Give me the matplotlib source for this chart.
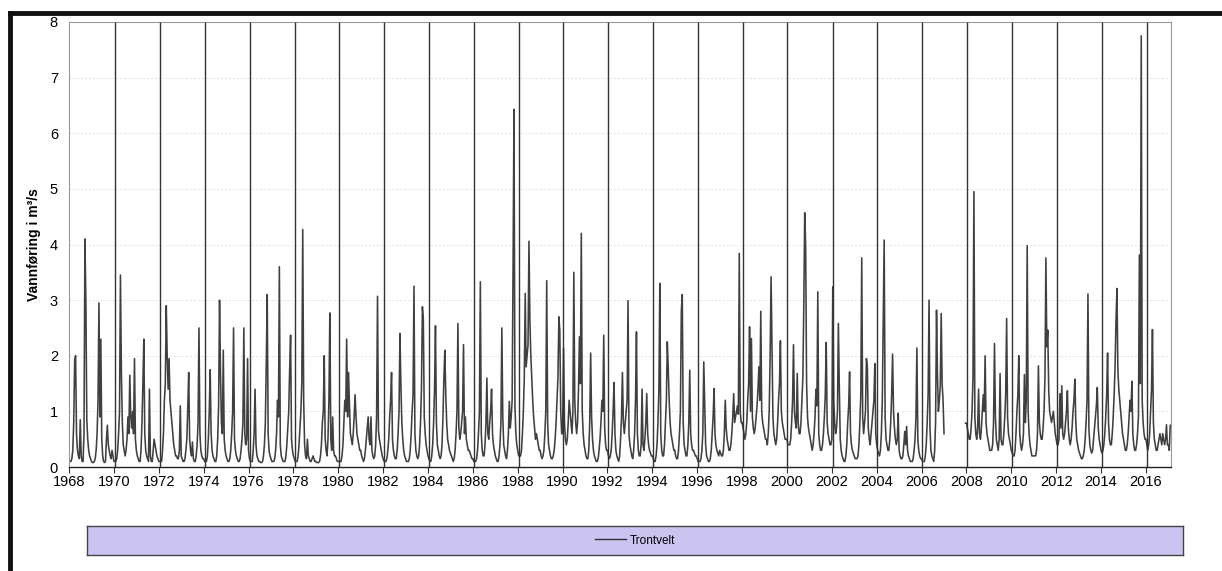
import numpy as np
import matplotlib
matplotlib.use("Agg")
import matplotlib.pyplot as plt
from matplotlib.lines import Line2D

plt.rcParams['font.family'] = ['Liberation Sans', 'DejaVu Sans']

# daily flow, 24 samples per year (1st and 16th of each month)
flow_1968_1977 = [
    0.1,0.1,0.1,0.15,0.3,0.8,1.9,2.0,0.6,0.3,0.2,0.15,0.85,0.2,0.1,0.1,0.6,4.1,3.0,0.85,0.5,0.3,0.2,0.15,   # 1968
    0.1,0.08,0.08,0.1,0.15,0.3,0.6,1.2,2.95,0.9,2.3,0.5,0.2,0.1,0.08,0.1,0.5,0.75,0.4,0.3,0.2,0.15,0.3,0.2, # 1969
    0.1,0.1,0.1,0.15,0.3,0.6,1.0,3.45,1.7,0.8,0.4,0.3,0.2,0.3,0.5,0.9,0.6,1.65,0.9,0.7,1.0,0.6,1.95,0.5,    # 1970
    0.3,0.2,0.15,0.1,0.1,0.3,0.8,1.5,2.3,0.6,0.3,0.2,0.15,0.1,1.4,0.2,0.1,0.1,0.3,0.5,0.4,0.3,0.2,0.15,     # 1971
    0.1,0.1,0.1,0.1,0.3,0.6,1.2,1.5,2.9,2.0,1.4,1.95,1.2,1.0,0.8,0.6,0.4,0.3,0.2,0.2,0.15,0.15,0.3,1.1,     # 1972
    0.2,0.15,0.1,0.1,0.15,0.3,0.5,1.05,1.7,0.5,0.3,0.2,0.45,0.15,0.1,0.1,0.2,0.4,0.8,2.5,0.6,0.3,0.2,0.15,  # 1973
    0.15,0.1,0.1,0.1,0.2,0.5,1.0,1.75,0.6,0.3,0.2,0.15,0.1,0.1,0.2,0.5,1.1,3.0,1.7,0.8,0.6,2.1,0.5,0.3,     # 1974
    0.2,0.15,0.1,0.1,0.15,0.3,0.6,1.0,2.5,0.5,0.3,0.2,0.15,0.1,0.1,0.15,0.3,0.5,0.8,2.5,0.6,0.4,0.5,1.95,   # 1975
    0.3,0.15,0.1,0.1,0.1,0.3,0.6,1.4,0.4,0.2,0.15,0.1,0.1,0.08,0.08,0.1,0.2,0.4,0.8,1.87,3.1,0.6,0.3,0.2,   # 1976
    0.15,0.1,0.1,0.1,0.15,0.3,0.6,1.2,0.9,3.6,0.4,0.2,0.15,0.1,0.1,0.1,0.2,0.4,0.7,1.0,1.75,2.37,0.5,0.3,   # 1977
]
flow_1978_1987 = [
    0.2,0.15,0.1,0.1,0.1,0.2,0.4,0.7,1.0,1.5,4.27,1.2,0.4,0.2,0.15,0.5,0.2,0.15,0.1,0.1,0.15,0.2,0.15,0.1,  # 1978
    0.1,0.08,0.08,0.08,0.1,0.2,0.4,0.8,1.0,2.0,0.5,0.3,0.2,0.5,1.2,2.77,0.5,0.3,0.9,0.3,0.2,0.2,0.15,0.1,  # 1979
    0.1,0.1,0.1,0.1,0.2,0.4,0.8,1.2,1.0,2.3,0.9,1.7,1.1,0.6,0.5,0.4,0.6,0.9,1.3,0.9,0.6,0.5,0.4,0.3,       # 1980
    0.3,0.2,0.15,0.1,0.15,0.3,0.5,0.7,0.9,0.5,0.4,0.9,0.3,0.2,0.15,0.2,0.4,0.9,3.07,0.66,0.5,0.4,0.3,0.2,  # 1981
    0.15,0.1,0.1,0.1,0.15,0.3,0.5,0.9,1.2,1.7,0.5,0.3,0.2,0.15,0.15,0.3,0.6,1.0,2.4,1.47,0.8,0.5,0.3,0.2,  # 1982
    0.15,0.1,0.1,0.1,0.15,0.3,0.6,1.0,1.3,3.25,0.6,0.3,0.2,0.15,0.2,0.4,0.8,1.4,2.88,2.66,0.9,0.6,0.4,0.3, # 1983
    0.2,0.15,0.1,0.1,0.2,0.4,0.8,1.4,2.54,0.8,0.4,0.3,0.2,0.15,0.2,0.4,0.9,1.6,2.1,1.3,0.8,0.5,0.4,0.3,    # 1984
    0.25,0.2,0.15,0.1,0.15,0.3,0.6,1.0,2.58,0.7,0.5,0.6,0.8,1.0,2.2,0.6,0.9,0.5,0.4,0.3,0.3,0.25,0.2,0.15, # 1985
    0.15,0.1,0.1,0.1,0.15,0.3,0.6,1.0,3.33,0.6,0.3,0.2,0.2,0.4,0.8,1.6,0.6,0.5,0.8,1.0,1.4,0.6,0.4,0.3,    # 1986
    0.2,0.15,0.1,0.1,0.2,0.4,0.8,2.5,0.9,0.4,0.3,0.2,0.15,0.3,0.6,1.18,0.7,0.9,1.2,3.6,6.43,1.1,0.6,0.4,   # 1987
]
flow_1988_1997 = [
    0.3,0.2,0.2,0.2,0.3,0.6,1.0,1.6,3.12,1.8,2.0,2.2,4.06,2.64,2.0,1.6,1.2,0.9,0.7,0.5,0.6,0.5,0.4,0.3,    # 1988
    0.3,0.2,0.15,0.2,0.3,0.6,1.0,3.35,0.8,0.4,0.3,0.2,0.15,0.15,0.2,0.3,0.5,0.8,1.2,1.6,2.7,2.45,1.0,0.6,  # 1989
    0.6,2.14,0.8,0.5,0.4,0.5,0.8,1.2,1.0,0.8,0.6,1.0,3.5,1.2,0.8,0.6,0.8,1.4,2.34,1.5,4.2,1.0,0.6,0.4,     # 1990
    0.3,0.2,0.15,0.15,0.3,0.8,2.05,0.9,0.5,0.3,0.2,0.15,0.1,0.1,0.15,0.3,0.5,0.8,1.2,1.0,2.37,0.7,0.4,0.3, # 1991
    0.3,0.2,0.15,0.2,0.3,0.6,1.0,1.52,0.6,0.3,0.2,0.15,0.1,0.2,0.5,0.9,1.7,0.8,0.6,0.8,1.0,1.2,2.99,0.6,   # 1992
    0.4,0.3,0.2,0.15,0.3,0.6,1.2,2.43,0.6,0.3,0.2,0.2,0.4,1.4,0.4,0.3,0.5,0.8,1.32,0.6,0.4,0.3,0.25,0.2,   # 1993
    0.2,0.15,0.1,0.1,0.2,0.4,0.8,1.4,3.3,0.6,0.3,0.2,0.2,0.4,0.8,1.2,2.25,1.77,1.2,0.8,0.6,0.5,0.4,0.3,    # 1994
    0.3,0.2,0.15,0.15,0.3,0.6,1.0,2.8,3.1,0.8,0.4,0.3,0.2,0.2,0.4,0.8,1.74,0.6,0.4,0.3,0.3,0.25,0.2,0.2,   # 1995
    0.15,0.1,0.1,0.1,0.15,0.3,0.6,1.89,1.17,0.4,0.2,0.15,0.1,0.1,0.15,0.3,0.6,0.9,1.41,0.6,0.4,0.3,0.25,0.2, # 1996
    0.3,0.25,0.2,0.2,0.3,0.6,1.2,0.7,0.5,0.4,0.3,0.3,0.4,0.6,0.9,1.32,0.8,0.9,1.0,1.1,0.95,3.84,1.0,0.8,   # 1997
]
flow_1998_2007 = [
    0.8,0.7,0.6,0.5,0.6,0.8,1.2,1.5,2.52,1.0,2.31,0.9,0.7,0.6,0.7,0.9,1.1,1.4,1.8,1.2,2.8,1.0,0.8,0.7,     # 1998
    0.6,0.5,0.5,0.4,0.6,1.0,1.98,3.42,2.1,0.9,0.6,0.5,0.4,0.5,0.8,1.2,1.5,2.27,1.0,0.8,0.7,0.6,0.5,0.5,    # 1999
    0.5,0.4,0.4,0.4,0.5,0.8,1.2,2.2,1.0,0.8,0.7,1.68,0.8,0.6,0.6,0.8,1.2,1.6,2.88,4.57,3.97,1.5,0.9,0.7,   # 2000
    0.6,0.5,0.4,0.3,0.4,0.6,0.9,1.4,1.1,3.15,0.6,0.4,0.3,0.3,0.4,0.6,0.9,1.3,2.24,0.8,0.6,0.5,0.4,0.4,    # 2001
    0.5,3.24,1.2,0.8,0.6,0.7,1.0,2.58,1.44,0.5,0.3,0.2,0.15,0.1,0.1,0.2,0.4,0.8,1.1,1.71,0.6,0.4,0.3,0.25, # 2002
    0.2,0.15,0.15,0.15,0.2,0.4,0.8,1.3,3.76,0.9,0.6,0.8,1.0,1.95,1.8,0.7,0.5,0.4,0.6,0.8,1.0,1.2,1.86,0.6, # 2003
    0.4,0.3,0.25,0.2,0.3,0.6,1.2,2.73,4.08,0.9,0.5,0.4,0.3,0.3,0.5,0.8,1.3,2.03,1.0,0.7,0.5,0.4,0.5,0.97,  # 2004
    0.3,0.2,0.15,0.15,0.2,0.4,0.64,0.4,0.73,0.3,0.2,0.15,0.1,0.1,0.1,0.15,0.3,0.5,0.9,2.14,0.5,0.3,0.2,0.15, # 2005
    0.15,0.1,0.1,0.1,0.2,0.4,0.8,1.3,3.0,0.7,0.3,0.2,0.15,0.1,0.3,0.8,2.82,1.66,1.0,1.2,1.44,2.76,1.5,1.2, # 2006
    0.6] + [np.nan] * 22 + [0.79,                                                                          # 2007 (gap)
]
flow_2008_2017 = [
    0.79,0.7,0.6,0.5,0.5,0.7,1.0,1.6,4.95,0.9,0.6,0.5,0.7,1.4,0.6,0.5,0.7,1.0,1.3,1.0,2.0,0.8,0.6,0.5,     # 2008
    0.4,0.3,0.3,0.3,0.4,0.8,2.22,0.9,0.5,0.4,0.3,0.5,1.68,0.5,0.4,0.4,0.6,0.9,1.3,2.67,0.9,0.6,0.5,0.4,    # 2009
    0.3,0.25,0.2,0.2,0.3,0.6,1.0,1.3,2.0,0.6,0.4,0.3,0.4,0.6,1.66,0.8,1.2,3.98,1.0,0.6,0.4,0.3,0.2,0.2,    # 2010
    0.2,0.2,0.2,0.3,0.6,1.82,0.8,0.6,0.5,0.5,0.7,1.0,1.6,3.76,2.16,2.46,1.4,1.0,0.9,0.8,0.9,1.0,0.8,0.6,   # 2011
    0.5,0.4,0.4,0.5,1.32,0.7,1.46,0.6,0.5,0.6,0.8,1.0,1.37,0.7,0.5,0.4,0.5,0.7,1.0,1.2,1.58,0.8,0.5,0.4,   # 2012
    0.3,0.25,0.2,0.15,0.15,0.2,0.3,0.5,0.8,1.2,3.11,0.7,0.4,0.3,0.25,0.3,0.5,0.7,0.9,1.1,1.43,0.7,0.5,0.4, # 2013
    0.3,0.25,0.3,0.4,0.6,0.9,1.3,2.05,0.8,0.5,0.4,0.4,0.6,0.9,1.3,1.8,2.63,3.21,1.74,1.4,1.2,1.0,0.8,0.6,  # 2014
    0.5,0.4,0.3,0.3,0.4,0.6,0.9,1.2,1.0,1.54,0.6,0.4,0.3,0.3,0.4,0.6,0.9,3.81,1.5,7.75,1.2,0.8,0.6,0.5,    # 2015
    0.5,0.4,0.3,0.4,0.6,1.0,1.4,2.47,0.8,0.5,0.4,0.3,0.3,0.4,0.5,0.6,0.5,0.4,0.6,0.5,0.4,0.5,0.76,0.4,    # 2016
    0.4,0.3,0.75,                                                                                          # 2017
]

# the tall dark lines just after every second new year
spike_years = [1970.06, 1972.06, 1974.06, 1976.06, 1978.05, 1980.05, 1982.05, 1984.06,
               1986.03, 1988.04, 1990.02, 1992.02, 1994.02, 1996.02, 1998.02, 2000.02,
               2002.03, 2004.03, 2006.04, 2008.02, 2010.02, 2012.02, 2014.06, 2016.06]

year_ticks = list(range(1968, 2017, 2))
y_ticks = list(range(0, 9))

flow = np.array(flow_1968_1977 + flow_1978_1987 + flow_1988_1997 + flow_1998_2007 + flow_2008_2017, dtype=float)
t = 1968 + np.arange(len(flow)) / 24.0

fig = plt.figure(figsize=(12.22, 5.71), dpi=100, facecolor='white')
ax = fig.add_axes([0.0565, 0.1821, 0.9018, 0.7794])

ax.vlines(spike_years, 0, 8, color='#333333', lw=1.0, zorder=3)
line, = ax.plot(t, flow, color='#404040', lw=1.15, label='Trontvelt', zorder=2)

ax.set_xlim(1968, 2017.12)
ax.set_ylim(0, 8)
ax.set_xticks(year_ticks)
ax.set_yticks(y_ticks)
ax.tick_params(axis='x', direction='out', length=4, width=0.8, color='#333333', labelsize=10.5, pad=2)
ax.tick_params(axis='y', length=0, labelsize=10.5, pad=8)
ax.grid(axis='y', color='#e2e2e2', lw=0.7, ls=(0, (2, 2)))
ax.set_axisbelow(True)
for s in ['top', 'left', 'right']:
    ax.spines[s].set_color('#999999')
    ax.spines[s].set_linewidth(0.8)
ax.spines['bottom'].set_color('#222222')
ax.spines['bottom'].set_linewidth(1.0)
ax.set_ylabel('Vannføring i m³/s', fontsize=10, fontweight='bold', labelpad=6)

# legend strip below the plot
leg_ax = fig.add_axes([0.0712, 0.028, 0.8968, 0.0508])
leg_ax.set_facecolor('#cbc3f0')
leg_ax.set_xticks([])
leg_ax.set_yticks([])
for s in leg_ax.spines.values():
    s.set_color('#444444')
    s.set_linewidth(1.0)
leg_ax.legend(handles=[Line2D([], [], color='#333333', lw=1.0)], labels=['Trontvelt'],
              loc='center', frameon=False, fontsize=8.5, handlelength=2.6, handletextpad=0.3)

# heavy frame around the whole chart (top and left)
fig.add_artist(Line2D([0.0082, 1.0], [0.977, 0.977], color='#111111', lw=3.5))
fig.add_artist(Line2D([0.0082, 0.0082], [0.0, 0.977], color='#111111', lw=3.5))

fig.savefig('out.png', dpi=100)
